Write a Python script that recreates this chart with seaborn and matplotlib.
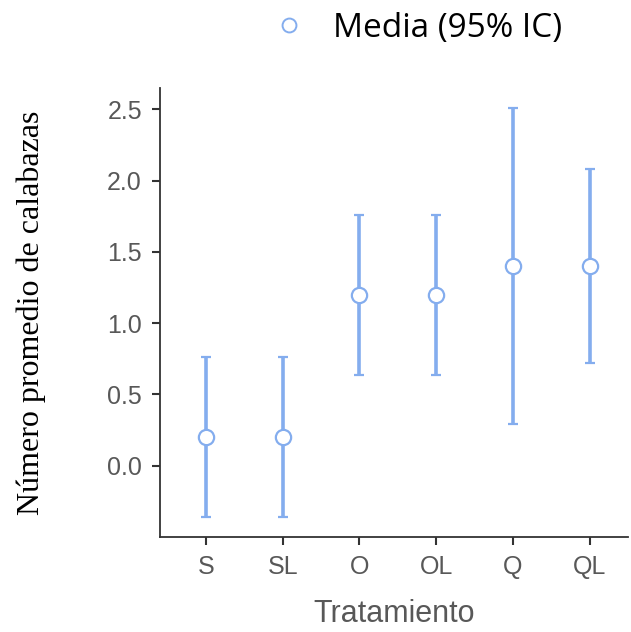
import matplotlib
matplotlib.use("Agg")
import matplotlib.pyplot as plt
from matplotlib.lines import Line2D
import seaborn as sns
import pandas as pd
import numpy as np

# Means and 95% confidence limits per treatment
tratamientos = ["S", "SL", "O", "OL", "Q", "QL"]
medias = [0.2, 0.2, 1.2, 1.2, 1.4, 1.4]
ic_inf = [-0.36, -0.36, 0.64, 0.64, 0.29, 0.72]
ic_sup = [0.76, 0.76, 1.76, 1.76, 2.51, 2.08]

azul = "#84adee"
gris = "#585858"

sns.set_theme(style="ticks")
plt.rcParams["font.family"] = ["Liberation Sans", "DejaVu Sans"]

df = pd.DataFrame({"Tratamiento": tratamientos, "Media": medias})

fig = plt.figure(figsize=(6.31, 6.32), dpi=100)
ax = fig.add_axes([160 / 631, 95 / 632, 468 / 631, 449 / 632])

x = np.arange(len(tratamientos))
err = [np.array(medias) - np.array(ic_inf), np.array(ic_sup) - np.array(medias)]
ax.errorbar(x, medias, yerr=err, fmt="none", ecolor=azul, elinewidth=2.6,
            capsize=3.5, capthick=3, zorder=2)

sns.pointplot(data=df, x="Tratamiento", y="Media", order=tratamientos,
              errorbar=None, linestyle="none", markers="o", color=azul,
              markersize=11, ax=ax, zorder=3)
for ln in ax.lines:
    ln.set_markerfacecolor("white")
    ln.set_markeredgecolor(azul)
    ln.set_markeredgewidth(1.6)

ax.set_xlim(-0.6, 5.5)
ax.set_ylim(-0.5, 2.65)
ax.set_yticks([0.0, 0.5, 1.0, 1.5, 2.0, 2.5])
ax.set_yticklabels(["0.0", "0.5", "1.0", "1.5", "2.0", "2.5"])

sns.despine(ax=ax)
for s in ["left", "bottom"]:
    ax.spines[s].set_color("#333333")
    ax.spines[s].set_linewidth(1.3)
ax.tick_params(axis="both", colors="#333333", length=6, width=1.5,
               labelcolor=gris, labelsize=18, pad=7)

ax.set_xlabel("Tratamiento", fontsize=22, color=gris, labelpad=14)
ax.set_ylabel("")
fig.text(0.05, 0.505, "Número promedio de calabazas", rotation=90,
         ha="center", va="center", fontsize=23,
         family=["Liberation Serif", "DejaVu Serif"], color="black")

handle = Line2D([], [], linestyle="none", marker="o", markersize=10,
                markerfacecolor="white", markeredgecolor=azul,
                markeredgewidth=1.4)
fig.legend([handle], ["Media (95% IC)"], loc="center left",
           bbox_to_anchor=(0.358, 0.955), frameon=False, handlelength=2,
           handletextpad=0.3, labelcolor="black",
           prop={"family": ["Open Sans", "DejaVu Sans"], "size": 24})

fig.savefig("out.png", dpi=100, facecolor="white")
